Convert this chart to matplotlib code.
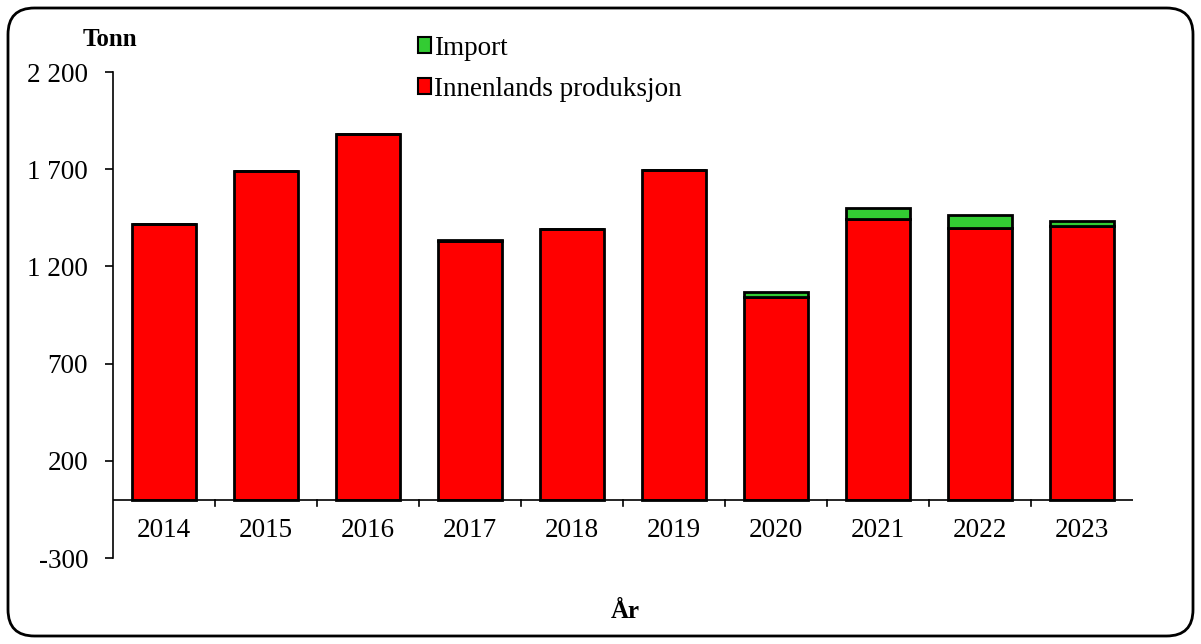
import matplotlib.pyplot as plt
import numpy as np
from matplotlib.patches import FancyBboxPatch, Patch

plt.rcParams['font.family'] = ['Liberation Serif', 'DejaVu Serif']

years = ['2014', '2015', '2016', '2017', '2018', '2019', '2020', '2021', '2022', '2023']
innenlands = [1418, 1690, 1880, 1330, 1392, 1698, 1042, 1444, 1400, 1410]
importert = [0, 0, 0, 8, 0, 0, 26, 56, 62, 22]
yticks = [-300, 200, 700, 1200, 1700, 2200]
ytick_labels = ['-300', '200', '700', '1 200', '1 700', '2 200']

fs = 19.5

fig = plt.figure(figsize=(12.01, 6.44), dpi=100)
ax = fig.add_axes([113/1201, 1 - 558/644, (1133 - 113)/1201, (558 - 72)/644])

x = np.arange(len(years))
ax.bar(x, innenlands, width=0.63, color='#ff0000', edgecolor='black', linewidth=2,
       label='Innenlands produksjon', zorder=3)
ax.bar(x, importert, width=0.63, bottom=innenlands, color='#33cc33', edgecolor='black',
       linewidth=2, label='Import', zorder=3)

ax.set_xlim(-0.5, len(years) - 0.5)
ax.set_ylim(-300, 2200)
ax.set_yticks(yticks)
ax.set_yticklabels(ytick_labels, fontsize=fs)
ax.tick_params(axis='y', length=6, width=1.2, pad=12)

# x axis at zero
for s in ['top', 'right', 'bottom']:
    ax.spines[s].set_visible(False)
ax.spines['left'].set_linewidth(1.2)
ax.axhline(0, color='black', linewidth=1.2, zorder=4)
ax.set_xticks([])
for k in range(1, len(years)):
    ax.plot([k - 0.5, k - 0.5], [0, -35], color='black', linewidth=1.2, clip_on=False)
for i, yr in enumerate(years):
    ax.text(i, -160, yr, ha='center', va='center', fontsize=fs)

fig.text(110/1201, 1 - 40/644, 'Tonn', ha='center', va='center', fontsize=18, fontweight='bold')
fig.text(625/1201, 1 - 611/644, 'År', ha='center', va='center', fontsize=18, fontweight='bold')

handles = [Patch(facecolor='#33cc33', edgecolor='black', linewidth=1.5, label='Import'),
           Patch(facecolor='#ff0000', edgecolor='black', linewidth=1.5, label='Innenlands produksjon')]
fig.legend(handles=handles, loc='upper left', bbox_to_anchor=(404/1201, 1 - 22/644),
           frameon=False, fontsize=fs, handlelength=0.5, handleheight=0.5,
           handletextpad=0.12, labelspacing=0.6, borderpad=0)

border = FancyBboxPatch((8/1201, 8/644), 1185/1201, 628/644,
                        boxstyle='round,pad=0,rounding_size=0.022',
                        transform=fig.transFigure, facecolor='none', edgecolor='black',
                        linewidth=2, mutation_aspect=1201/644)
fig.patches.append(border)

fig.savefig('out.png', dpi=100)
